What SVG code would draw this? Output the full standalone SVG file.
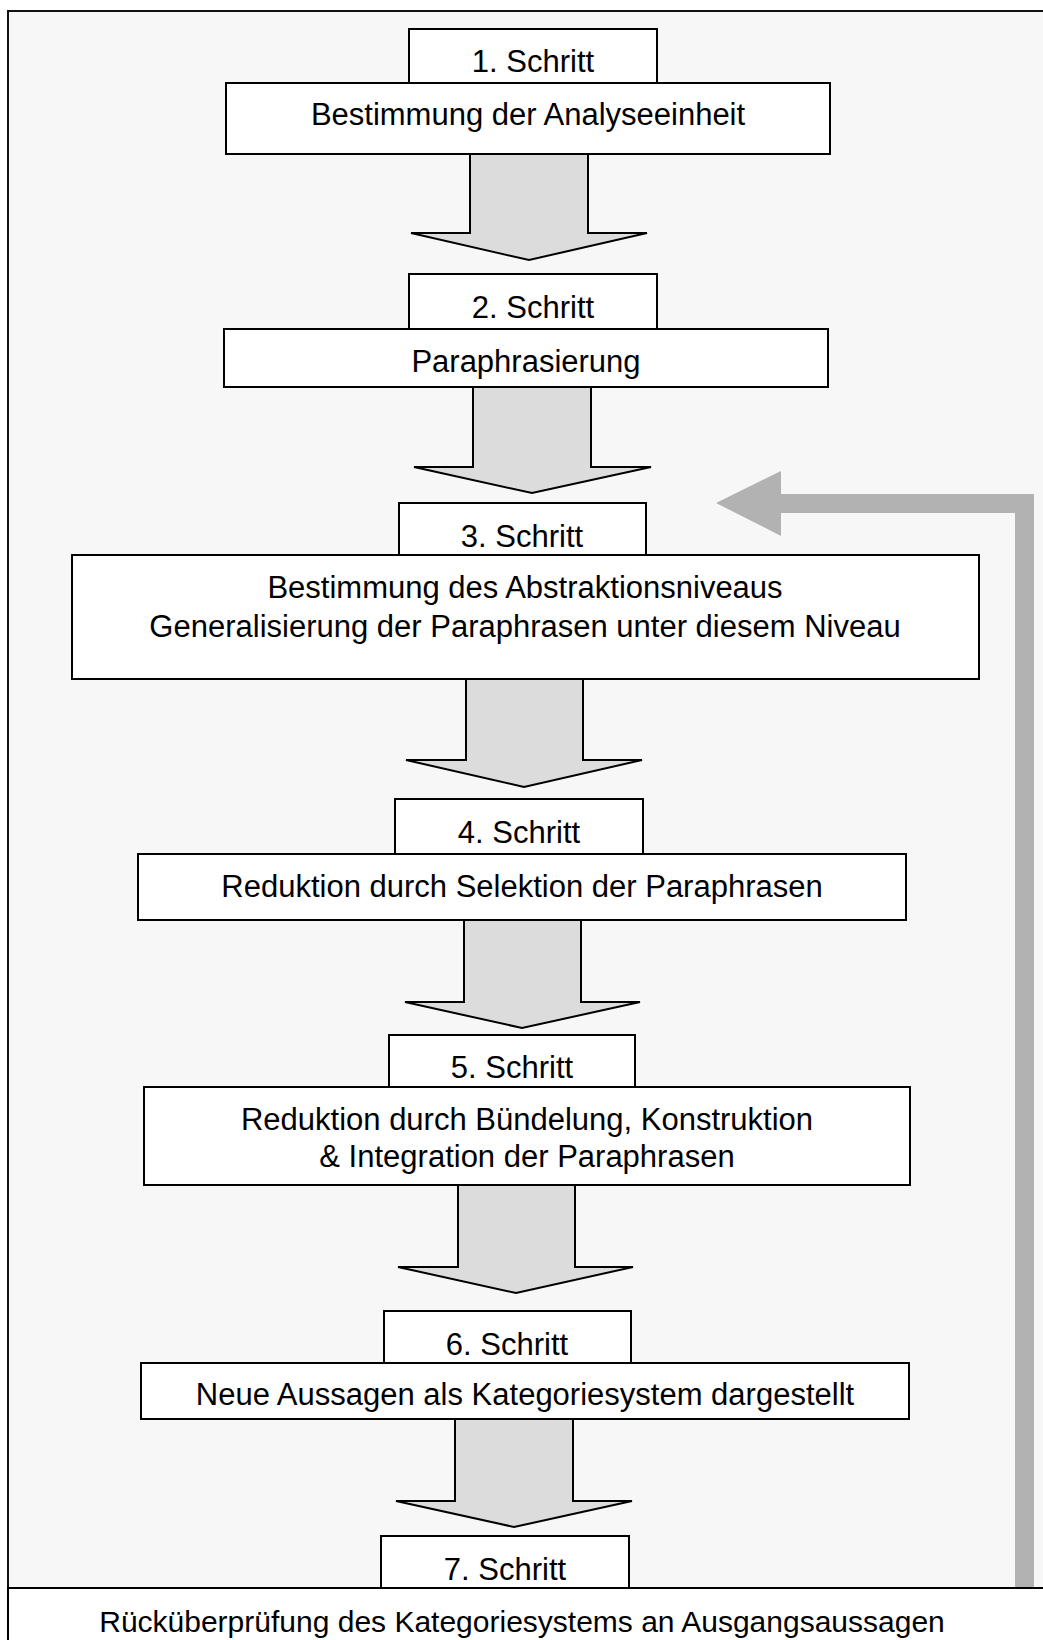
<svg xmlns="http://www.w3.org/2000/svg" width="1043" height="1640" viewBox="0 0 1043 1640">
  <style>
    .box { fill: #ffffff; stroke: #000000; stroke-width: 2; }
    .lbl { font-family: "Liberation Sans", Arial, sans-serif; font-size: 31px; fill: #000000; text-anchor: middle; }
    .foot { font-size: 30px; }
    .flow { fill: #dcdcdc; stroke: #000000; stroke-width: 2; stroke-linejoin: miter; }
    .back { fill: #b2b2b2; stroke: none; }
  </style>

  <!-- outer frame with light background -->
  <rect x="8" y="11" width="1050" height="1650" fill="#f7f7f7" stroke="#111111" stroke-width="2"/>

  <g id="connectors">
    <polygon class="flow" points="470,154 588,154 588,233 647,233 529,260 411,233 470,233"/>
    <polygon class="flow" points="473,387 591,387 591,467 651,467 532,493 414,467 473,467"/>
    <polygon class="flow" points="466,679 583,679 583,760 642,760 524,787 406,760 466,760"/>
    <polygon class="flow" points="464,920 581,920 581,1002 640,1002 522,1028 405,1002 464,1002"/>
    <polygon class="flow" points="458,1185 575,1185 575,1267 633,1267 516,1293 398,1267 458,1267"/>
    <polygon class="flow" points="455,1419 573,1419 573,1501 632,1501 514,1527 396,1501 455,1501"/>
    <!-- feedback loop from the check back to step 3 -->
    <polygon class="back" points="716,503 781,471 781,494 1034,494 1034,1588 1015,1588 1015,513 781,513 781,536"/>
  </g>

  <g id="step1">
    <rect class="box" x="409" y="29" width="248" height="54"/>
    <text class="lbl" x="533" y="72">1. Schritt</text>
    <rect class="box" x="226" y="83" width="604" height="71"/>
    <text class="lbl" x="528" y="125">Bestimmung der Analyseeinheit</text>
  </g>

  <g id="step2">
    <rect class="box" x="409" y="274" width="248" height="55"/>
    <text class="lbl" x="533" y="318">2. Schritt</text>
    <rect class="box" x="224" y="329" width="604" height="58"/>
    <text class="lbl" x="526" y="372">Paraphrasierung</text>
  </g>

  <g id="step3">
    <rect class="box" x="399" y="503" width="247" height="52"/>
    <text class="lbl" x="522" y="547">3. Schritt</text>
    <rect class="box" x="72" y="555" width="907" height="124"/>
    <text class="lbl" x="525" y="598">Bestimmung des Abstraktionsniveaus</text>
    <text class="lbl" x="525" y="637">Generalisierung der Paraphrasen unter diesem Niveau</text>
  </g>

  <g id="step4">
    <rect class="box" x="395" y="799" width="248" height="55"/>
    <text class="lbl" x="519" y="843">4. Schritt</text>
    <rect class="box" x="138" y="854" width="768" height="66"/>
    <text class="lbl" x="522" y="897">Reduktion durch Selektion der Paraphrasen</text>
  </g>

  <g id="step5">
    <rect class="box" x="389" y="1035" width="246" height="52"/>
    <text class="lbl" x="512" y="1078">5. Schritt</text>
    <rect class="box" x="144" y="1087" width="766" height="98"/>
    <text class="lbl" x="527" y="1130">Reduktion durch Bündelung, Konstruktion</text>
    <text class="lbl" x="527" y="1167">&amp; Integration der Paraphrasen</text>
  </g>

  <g id="step6">
    <rect class="box" x="384" y="1311" width="247" height="52"/>
    <text class="lbl" x="507" y="1355">6. Schritt</text>
    <rect class="box" x="141" y="1363" width="768" height="56"/>
    <text class="lbl" x="525" y="1405">Neue Aussagen als Kategoriesystem dargestellt</text>
  </g>

  <g id="step7">
    <rect class="box" x="381" y="1536" width="248" height="52"/>
    <text class="lbl" x="505" y="1580">7. Schritt</text>
    <rect class="box" x="8" y="1588" width="1050" height="70"/>
    <text class="lbl foot" x="522" y="1632">Rücküberprüfung des Kategoriesystems an Ausgangsaussagen</text>
  </g>
</svg>
